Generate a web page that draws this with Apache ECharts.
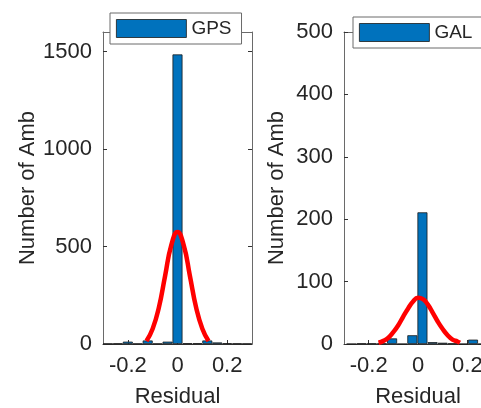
<!DOCTYPE html>
<html>
<head>
<meta charset="utf-8">
<script src="https://cdn.jsdelivr.net/npm/echarts@6/dist/echarts.min.js"></script>
<style>
html, body { margin: 0; padding: 0; background: #fff; }
#main { width: 481px; height: 408px; }
</style>
</head>
<body>
<div id="main"></div>
<script>
// histogram bins (centers) and counts
var gpsCenters = [-0.28, -0.24, -0.20, -0.16, -0.12, -0.08, -0.04, 0, 0.04, 0.08, 0.12, 0.16, 0.20, 0.24, 0.28];
var gpsCounts  = [2, 3, 12, 2, 18, 2, 12, 1485, 4, 4, 18, 8, 4, 3, 2];
var galCenters = [-0.269, -0.228, -0.187, -0.146, -0.105, -0.064, -0.023, 0.018, 0.059, 0.100, 0.141, 0.182, 0.223, 0.264];
var galCounts  = [0, 1, 1, 1, 9, 0, 14, 211, 3, 2, 1, 0, 7, 0];

// red fitted curves
var gpsFitX = [-0.125, -0.1, -0.075, -0.05, -0.025, 0, 0.025, 0.05, 0.075, 0.1, 0.125];
var gpsFitY = [15, 78, 187, 349, 507, 575, 507, 349, 187, 78, 15];
var galFitX = [-0.16, -0.14, -0.12, -0.10, -0.08, -0.06, -0.04, -0.02, 0, 0.02, 0.04, 0.06, 0.08, 0.10, 0.12, 0.14, 0.16, 0.17];
var galFitY = [2, 5, 10, 19, 30, 44, 57, 68, 74, 72, 63, 50, 36, 24, 14, 7, 4, 2];

// ticks
var xTicks = [-0.2, 0, 0.2];
var gpsYTicks = [0, 500, 1000, 1500];
var galYTicks = [0, 100, 200, 300, 400, 500];

function pairs(xs, ys){
    var out = [];
    for (var i = 0; i < xs.length; i++) out.push([xs[i], ys[i]]);
    return out;
}

var txt = '#262626';
var boxColor = '#6a6a6a';
var font = 'Liberation Sans, Arial, sans-serif';

function xAx(grid, bottom){
    return {
        type: 'value', gridIndex: grid, min: -0.3, max: 0.3,
        position: bottom ? 'bottom' : 'top',
        name: bottom ? 'Residual' : '', nameLocation: 'middle', nameGap: 42,
        nameTextStyle: { fontSize: 22, color: txt, fontFamily: font },
        axisLine: { show: true, onZero: false, lineStyle: { color: bottom ? '#333' : boxColor, width: 1 } },
        axisTick: { show: true, inside: true, length: 4, customValues: xTicks, lineStyle: { color: '#333' } },
        axisLabel: { show: bottom, customValues: xTicks, margin: 11, fontSize: 22, color: txt, fontFamily: font,
            formatter: function(v){ return v === 0 ? '0' : String(v); } },
        splitLine: { show: false }
    };
}
function yAx(grid, left, max, ticks, gap){
    return {
        type: 'value', gridIndex: grid, min: 0, max: max,
        position: left ? 'left' : 'right',
        name: left ? 'Number of Amb' : '', nameLocation: 'middle', nameGap: gap,
        nameTextStyle: { fontSize: 22, color: txt, fontFamily: font },
        axisLine: { show: true, onZero: false, lineStyle: { color: boxColor, width: 1 } },
        axisTick: { show: true, inside: true, length: 4, customValues: ticks, lineStyle: { color: '#333' } },
        axisLabel: { show: left, customValues: ticks, margin: 11, fontSize: 22, color: txt, fontFamily: font,
            formatter: function(v){ return String(v); } },
        splitLine: { show: false }
    };
}

var barStyle = { color: '#0072BD', borderColor: '#1a1a1a', borderWidth: 0.8 };

function legendBox(name, left, top){
    return { data: [{ name: name, icon: 'rect' }], left: left, top: top, orient: 'horizontal',
        padding: [6, 10, 6, 6], itemWidth: 70, itemHeight: 18,
        itemStyle: { borderWidth: 0.8, borderColor: '#1a1a1a' },
        backgroundColor: '#fff', borderColor: boxColor, borderWidth: 1,
        textStyle: { fontSize: 19, color: txt, fontFamily: font }, selectedMode: false };
}

var myChart = echarts.init(document.getElementById('main'));
var option = {
    backgroundColor: '#fff',
    animation: false,
    grid: [
        { left: 103, width: 149, top: 32, bottom: 64, outerBoundsMode: 'none', containLabel: false },
        { left: 344, width: 148, top: 32, bottom: 64, outerBoundsMode: 'none', containLabel: false }
    ],
    legend: [ legendBox('GPS', 110, 13), legendBox('GAL', 353, 17) ],
    xAxis: [ xAx(0, true), xAx(0, false), xAx(1, true), xAx(1, false) ],
    yAxis: [
        yAx(0, true, 1600, gpsYTicks, 62), yAx(0, false, 1600, gpsYTicks, 0),
        yAx(1, true, 500, galYTicks, 56), yAx(1, false, 500, galYTicks, 0)
    ],
    series: [
        { name: 'GPS', type: 'bar', xAxisIndex: 0, yAxisIndex: 0, barWidth: 10,
          itemStyle: barStyle, data: pairs(gpsCenters, gpsCounts) },
        { name: 'gpsfit', type: 'line', xAxisIndex: 0, yAxisIndex: 0, smooth: true, symbol: 'none',
          lineStyle: { color: '#FF0000', width: 4.5 }, z: 5, data: pairs(gpsFitX, gpsFitY) },
        { name: 'GAL', type: 'bar', xAxisIndex: 2, yAxisIndex: 2, barWidth: 10,
          itemStyle: barStyle, data: pairs(galCenters, galCounts) },
        { name: 'galfit', type: 'line', xAxisIndex: 2, yAxisIndex: 2, smooth: true, symbol: 'none',
          lineStyle: { color: '#FF0000', width: 4.5 }, z: 5, data: pairs(galFitX, galFitY) }
    ]
};
myChart.setOption(option);
</script>
</body>
</html>
